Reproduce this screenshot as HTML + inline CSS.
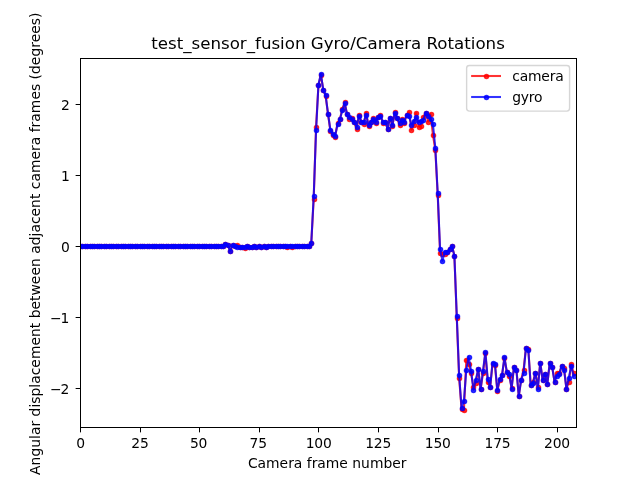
<!DOCTYPE html>
<html lang="en"><head><meta charset="utf-8"><title>test_sensor_fusion Gyro/Camera Rotations</title>
<style>html,body{margin:0;padding:0;background:#fff}body{width:640px;height:480px;overflow:hidden}svg{display:block}text{font-family:'DejaVu Sans','Liberation Sans',sans-serif;fill:#000}.t{font-size:13.889px}.k{letter-spacing:-0.2px}.n{letter-spacing:-1px}.sp{stroke:#000;stroke-width:1;fill:none;stroke-linecap:square}.tk{stroke:#000;stroke-width:1}.ln{fill:none;stroke-width:2.083;stroke-opacity:.8;stroke-linejoin:round;stroke-linecap:square}.r circle{fill:#f00;fill-opacity:.8;stroke:#f00;stroke-opacity:.8;stroke-width:1.389}.b circle{fill:#00f;fill-opacity:.8;stroke:#00f;stroke-opacity:.8;stroke-width:1.389}</style></head><body>
<svg width="640" height="480" viewBox="0 0 640 480">
<rect width="640" height="480" fill="#fff"/>
<clipPath id="ax"><rect x="80" y="57.6" width="496" height="369.6"/></clipPath>
<line class="tk" x1="80.500" y1="427.500" x2="80.500" y2="432.361"/>
<text class="t k" text-anchor="middle" x="80.600" y="448.476">0</text>
<line class="tk" x1="140.500" y1="427.500" x2="140.500" y2="432.361"/>
<text class="t k" text-anchor="middle" x="139.915" y="448.476">25</text>
<line class="tk" x1="199.500" y1="427.500" x2="199.500" y2="432.361"/>
<text class="t k" text-anchor="middle" x="198.631" y="448.476">50</text>
<line class="tk" x1="259.500" y1="427.500" x2="259.500" y2="432.361"/>
<text class="t k" text-anchor="middle" x="258.246" y="448.476">75</text>
<line class="tk" x1="318.500" y1="427.500" x2="318.500" y2="432.361"/>
<text class="t k" text-anchor="middle" x="318.662" y="448.476">100</text>
<line class="tk" x1="378.500" y1="427.500" x2="378.500" y2="432.361"/>
<text class="t k" text-anchor="middle" x="378.177" y="448.476">125</text>
<line class="tk" x1="438.500" y1="427.500" x2="438.500" y2="432.361"/>
<text class="t k" text-anchor="middle" x="437.792" y="448.476">150</text>
<line class="tk" x1="497.500" y1="427.500" x2="497.500" y2="432.361"/>
<text class="t k" text-anchor="middle" x="497.508" y="448.476">175</text>
<line class="tk" x1="557.500" y1="427.500" x2="557.500" y2="432.361"/>
<text class="t k" text-anchor="middle" x="557.023" y="448.476">200</text>
<text class="t" text-anchor="middle" x="327.2" y="467.673">Camera frame number</text>
<line class="tk" x1="75.639" y1="388.500" x2="80.500" y2="388.500"/>
<text class="t n" text-anchor="end" x="68.378" y="394.409">−2</text>
<line class="tk" x1="75.639" y1="317.500" x2="80.500" y2="317.500"/>
<text class="t n" text-anchor="end" x="68.378" y="323.268">−1</text>
<line class="tk" x1="75.639" y1="246.500" x2="80.500" y2="246.500"/>
<text class="t" text-anchor="end" x="69.778" y="252.127">0</text>
<line class="tk" x1="75.639" y1="175.500" x2="80.500" y2="175.500"/>
<text class="t" text-anchor="end" x="69.778" y="180.986">1</text>
<line class="tk" x1="75.639" y1="104.500" x2="80.500" y2="104.500"/>
<text class="t" text-anchor="end" x="69.778" y="109.844">2</text>
<text class="t" style="letter-spacing:0.015px" text-anchor="middle" transform="translate(39.859 243.750) rotate(-90)">Angular displacement between adjacent camera frames (degrees)</text>
<g clip-path="url(#ax)" class="r"><polyline class="ln" stroke="#f00" points="80.00,245.85 82.38,245.85 84.77,245.85 87.15,245.85 89.54,245.85 91.92,245.85 94.31,245.85 96.69,245.85 99.08,245.85 101.46,245.85 103.85,245.85 106.23,245.85 108.62,245.85 111.00,245.85 113.38,245.85 115.77,245.85 118.15,245.85 120.54,245.85 122.92,245.85 125.31,245.85 127.69,245.85 130.08,245.85 132.46,245.85 134.85,245.85 137.23,245.85 139.62,245.85 142.00,245.85 144.38,245.85 146.77,245.85 149.15,245.85 151.54,245.85 153.92,245.85 156.31,245.85 158.69,245.85 161.08,245.85 163.46,245.85 165.85,245.85 168.23,245.85 170.62,245.85 173.00,245.85 175.38,245.85 177.77,245.85 180.15,245.85 182.54,245.85 184.92,245.85 187.31,245.85 189.69,245.85 192.08,245.85 194.46,245.85 196.85,245.85 199.23,245.85 201.62,245.85 204.00,245.85 206.38,245.85 208.77,245.85 211.15,245.85 213.54,245.85 215.92,245.85 218.31,245.85 220.69,245.85 223.08,245.85 225.46,243.72 227.85,245.14 230.23,250.83 232.62,244.78 235.00,245.85 237.38,244.78 239.77,246.70 242.15,246.70 244.54,247.98 246.92,245.85 249.31,246.70 251.69,246.70 254.08,245.99 256.46,246.70 258.85,245.99 261.23,246.70 263.62,245.99 266.00,246.70 268.38,245.85 270.77,245.85 273.15,245.85 275.54,245.85 277.92,245.85 280.31,245.85 282.69,245.85 285.08,245.85 287.46,246.70 289.85,245.85 292.23,246.70 294.62,245.85 297.00,245.85 299.38,245.85 301.77,245.85 304.15,245.85 306.54,245.85 308.92,245.85 311.31,242.51 313.69,199.25 316.08,126.55 318.46,85.28 320.85,74.61 323.23,89.55 325.62,95.96 328.00,113.74 330.38,130.81 332.77,134.73 335.15,136.51 337.54,122.99 339.92,119.08 342.31,109.12 344.69,102.36 347.08,114.45 349.46,118.72 351.85,118.01 354.23,122.28 356.62,129.39 359.00,114.74 361.38,121.85 363.77,123.70 366.15,112.82 368.54,126.19 370.92,121.85 373.31,118.29 375.69,122.63 378.08,117.30 380.46,114.81 382.85,122.99 385.23,121.57 387.62,128.68 390.00,117.58 392.38,126.19 394.77,112.32 397.15,118.01 399.54,125.12 401.92,118.72 404.31,122.99 406.69,114.74 409.08,112.32 411.46,129.75 413.85,125.12 416.23,113.03 418.62,126.55 421.00,125.84 423.38,117.30 425.77,112.60 428.15,121.57 430.54,114.10 432.92,134.73 435.31,149.81 437.69,194.84 440.08,252.89 442.46,253.89 444.85,254.25 447.23,252.47 449.62,248.77 452.00,245.92 454.38,255.60 456.77,318.27 459.15,378.10 461.54,408.98 463.92,409.90 466.31,359.61 468.69,363.94 471.08,373.12 473.46,387.14 475.85,382.65 478.23,369.00 480.62,389.06 483.00,373.12 485.38,353.06 487.77,381.94 490.15,386.92 492.54,363.94 494.92,364.51 497.31,391.19 499.69,380.16 502.08,374.83 504.46,358.11 506.85,372.13 509.23,375.83 511.62,387.63 514.00,366.51 516.38,369.56 518.77,396.03 521.15,379.81 523.54,370.21 525.92,348.08 528.31,348.58 530.69,385.22 533.08,381.59 535.46,372.70 537.85,387.14 540.23,362.74 542.62,379.81 545.00,373.62 547.38,383.65 549.77,362.74 552.15,366.51 554.54,381.94 556.92,372.70 559.31,372.84 561.69,365.87 564.08,368.43 566.46,389.06 568.85,381.52 571.23,364.37 573.62,373.41"/>
<circle cx="80.5" cy="246.5" r="2.083"/><circle cx="82.5" cy="246.5" r="2.083"/><circle cx="85.5" cy="246.5" r="2.083"/><circle cx="87.5" cy="246.5" r="2.083"/><circle cx="90.5" cy="246.5" r="2.083"/><circle cx="92.5" cy="246.5" r="2.083"/><circle cx="94.5" cy="246.5" r="2.083"/><circle cx="97.5" cy="246.5" r="2.083"/><circle cx="99.5" cy="246.5" r="2.083"/><circle cx="101.5" cy="246.5" r="2.083"/><circle cx="104.5" cy="246.5" r="2.083"/><circle cx="106.5" cy="246.5" r="2.083"/><circle cx="109.5" cy="246.5" r="2.083"/><circle cx="111.5" cy="246.5" r="2.083"/><circle cx="113.5" cy="246.5" r="2.083"/><circle cx="116.5" cy="246.5" r="2.083"/><circle cx="118.5" cy="246.5" r="2.083"/><circle cx="121.5" cy="246.5" r="2.083"/><circle cx="123.5" cy="246.5" r="2.083"/><circle cx="125.5" cy="246.5" r="2.083"/><circle cx="128.5" cy="246.5" r="2.083"/><circle cx="130.5" cy="246.5" r="2.083"/><circle cx="132.5" cy="246.5" r="2.083"/><circle cx="135.5" cy="246.5" r="2.083"/><circle cx="137.5" cy="246.5" r="2.083"/><circle cx="140.5" cy="246.5" r="2.083"/><circle cx="142.5" cy="246.5" r="2.083"/><circle cx="144.5" cy="246.5" r="2.083"/><circle cx="147.5" cy="246.5" r="2.083"/><circle cx="149.5" cy="246.5" r="2.083"/><circle cx="152.5" cy="246.5" r="2.083"/><circle cx="154.5" cy="246.5" r="2.083"/><circle cx="156.5" cy="246.5" r="2.083"/><circle cx="159.5" cy="246.5" r="2.083"/><circle cx="161.5" cy="246.5" r="2.083"/><circle cx="163.5" cy="246.5" r="2.083"/><circle cx="166.5" cy="246.5" r="2.083"/><circle cx="168.5" cy="246.5" r="2.083"/><circle cx="171.5" cy="246.5" r="2.083"/><circle cx="173.5" cy="246.5" r="2.083"/><circle cx="175.5" cy="246.5" r="2.083"/><circle cx="178.5" cy="246.5" r="2.083"/><circle cx="180.5" cy="246.5" r="2.083"/><circle cx="183.5" cy="246.5" r="2.083"/><circle cx="185.5" cy="246.5" r="2.083"/><circle cx="187.5" cy="246.5" r="2.083"/><circle cx="190.5" cy="246.5" r="2.083"/><circle cx="192.5" cy="246.5" r="2.083"/><circle cx="194.5" cy="246.5" r="2.083"/><circle cx="197.5" cy="246.5" r="2.083"/><circle cx="199.5" cy="246.5" r="2.083"/><circle cx="202.5" cy="246.5" r="2.083"/><circle cx="204.5" cy="246.5" r="2.083"/><circle cx="206.5" cy="246.5" r="2.083"/><circle cx="209.5" cy="246.5" r="2.083"/><circle cx="211.5" cy="246.5" r="2.083"/><circle cx="214.5" cy="246.5" r="2.083"/><circle cx="216.5" cy="246.5" r="2.083"/><circle cx="218.5" cy="246.5" r="2.083"/><circle cx="221.5" cy="246.5" r="2.083"/><circle cx="223.5" cy="246.5" r="2.083"/><circle cx="225.5" cy="244.5" r="2.083"/><circle cx="228.5" cy="245.5" r="2.083"/><circle cx="230.5" cy="251.5" r="2.083"/><circle cx="233.5" cy="245.5" r="2.083"/><circle cx="235.5" cy="246.5" r="2.083"/><circle cx="237.5" cy="245.5" r="2.083"/><circle cx="240.5" cy="247.5" r="2.083"/><circle cx="242.5" cy="247.5" r="2.083"/><circle cx="245.5" cy="248.5" r="2.083"/><circle cx="247.5" cy="246.5" r="2.083"/><circle cx="249.5" cy="247.5" r="2.083"/><circle cx="252.5" cy="247.5" r="2.083"/><circle cx="254.5" cy="246.5" r="2.083"/><circle cx="256.5" cy="247.5" r="2.083"/><circle cx="259.5" cy="246.5" r="2.083"/><circle cx="261.5" cy="247.5" r="2.083"/><circle cx="264.5" cy="246.5" r="2.083"/><circle cx="266.5" cy="247.5" r="2.083"/><circle cx="268.5" cy="246.5" r="2.083"/><circle cx="271.5" cy="246.5" r="2.083"/><circle cx="273.5" cy="246.5" r="2.083"/><circle cx="276.5" cy="246.5" r="2.083"/><circle cx="278.5" cy="246.5" r="2.083"/><circle cx="280.5" cy="246.5" r="2.083"/><circle cx="283.5" cy="246.5" r="2.083"/><circle cx="285.5" cy="246.5" r="2.083"/><circle cx="287.5" cy="247.5" r="2.083"/><circle cx="290.5" cy="246.5" r="2.083"/><circle cx="292.5" cy="247.5" r="2.083"/><circle cx="295.5" cy="246.5" r="2.083"/><circle cx="297.5" cy="246.5" r="2.083"/><circle cx="299.5" cy="246.5" r="2.083"/><circle cx="302.5" cy="246.5" r="2.083"/><circle cx="304.5" cy="246.5" r="2.083"/><circle cx="307.5" cy="246.5" r="2.083"/><circle cx="309.5" cy="246.5" r="2.083"/><circle cx="311.5" cy="243.5" r="2.083"/><circle cx="314.5" cy="199.5" r="2.083"/><circle cx="316.5" cy="127.5" r="2.083"/><circle cx="318.5" cy="85.5" r="2.083"/><circle cx="321.5" cy="75.5" r="2.083"/><circle cx="323.5" cy="90.5" r="2.083"/><circle cx="326.5" cy="96.5" r="2.083"/><circle cx="328.5" cy="114.5" r="2.083"/><circle cx="330.5" cy="131.5" r="2.083"/><circle cx="333.5" cy="135.5" r="2.083"/><circle cx="335.5" cy="137.5" r="2.083"/><circle cx="338.5" cy="123.5" r="2.083"/><circle cx="340.5" cy="119.5" r="2.083"/><circle cx="342.5" cy="109.5" r="2.083"/><circle cx="345.5" cy="102.5" r="2.083"/><circle cx="347.5" cy="114.5" r="2.083"/><circle cx="349.5" cy="119.5" r="2.083"/><circle cx="352.5" cy="118.5" r="2.083"/><circle cx="354.5" cy="122.5" r="2.083"/><circle cx="357.5" cy="129.5" r="2.083"/><circle cx="359.5" cy="115.5" r="2.083"/><circle cx="361.5" cy="122.5" r="2.083"/><circle cx="364.5" cy="124.5" r="2.083"/><circle cx="366.5" cy="113.5" r="2.083"/><circle cx="369.5" cy="126.5" r="2.083"/><circle cx="371.5" cy="122.5" r="2.083"/><circle cx="373.5" cy="118.5" r="2.083"/><circle cx="376.5" cy="123.5" r="2.083"/><circle cx="378.5" cy="117.5" r="2.083"/><circle cx="380.5" cy="115.5" r="2.083"/><circle cx="383.5" cy="123.5" r="2.083"/><circle cx="385.5" cy="122.5" r="2.083"/><circle cx="388.5" cy="129.5" r="2.083"/><circle cx="390.5" cy="118.5" r="2.083"/><circle cx="392.5" cy="126.5" r="2.083"/><circle cx="395.5" cy="112.5" r="2.083"/><circle cx="397.5" cy="118.5" r="2.083"/><circle cx="400.5" cy="125.5" r="2.083"/><circle cx="402.5" cy="119.5" r="2.083"/><circle cx="404.5" cy="123.5" r="2.083"/><circle cx="407.5" cy="115.5" r="2.083"/><circle cx="409.5" cy="112.5" r="2.083"/><circle cx="411.5" cy="130.5" r="2.083"/><circle cx="414.5" cy="125.5" r="2.083"/><circle cx="416.5" cy="113.5" r="2.083"/><circle cx="419.5" cy="127.5" r="2.083"/><circle cx="421.5" cy="126.5" r="2.083"/><circle cx="423.5" cy="117.5" r="2.083"/><circle cx="426.5" cy="113.5" r="2.083"/><circle cx="428.5" cy="122.5" r="2.083"/><circle cx="431.5" cy="114.5" r="2.083"/><circle cx="433.5" cy="135.5" r="2.083"/><circle cx="435.5" cy="150.5" r="2.083"/><circle cx="438.5" cy="195.5" r="2.083"/><circle cx="440.5" cy="253.5" r="2.083"/><circle cx="442.5" cy="254.5" r="2.083"/><circle cx="445.5" cy="254.5" r="2.083"/><circle cx="447.5" cy="252.5" r="2.083"/><circle cx="450.5" cy="249.5" r="2.083"/><circle cx="452.5" cy="246.5" r="2.083"/><circle cx="454.5" cy="256.5" r="2.083"/><circle cx="457.5" cy="318.5" r="2.083"/><circle cx="459.5" cy="378.5" r="2.083"/><circle cx="462.5" cy="409.5" r="2.083"/><circle cx="464.5" cy="410.5" r="2.083"/><circle cx="466.5" cy="360.5" r="2.083"/><circle cx="469.5" cy="364.5" r="2.083"/><circle cx="471.5" cy="373.5" r="2.083"/><circle cx="473.5" cy="387.5" r="2.083"/><circle cx="476.5" cy="383.5" r="2.083"/><circle cx="478.5" cy="369.5" r="2.083"/><circle cx="481.5" cy="389.5" r="2.083"/><circle cx="483.5" cy="373.5" r="2.083"/><circle cx="485.5" cy="353.5" r="2.083"/><circle cx="488.5" cy="382.5" r="2.083"/><circle cx="490.5" cy="387.5" r="2.083"/><circle cx="493.5" cy="364.5" r="2.083"/><circle cx="495.5" cy="365.5" r="2.083"/><circle cx="497.5" cy="391.5" r="2.083"/><circle cx="500.5" cy="380.5" r="2.083"/><circle cx="502.5" cy="375.5" r="2.083"/><circle cx="504.5" cy="358.5" r="2.083"/><circle cx="507.5" cy="372.5" r="2.083"/><circle cx="509.5" cy="376.5" r="2.083"/><circle cx="512.5" cy="388.5" r="2.083"/><circle cx="514.5" cy="367.5" r="2.083"/><circle cx="516.5" cy="370.5" r="2.083"/><circle cx="519.5" cy="396.5" r="2.083"/><circle cx="521.5" cy="380.5" r="2.083"/><circle cx="524.5" cy="370.5" r="2.083"/><circle cx="526.5" cy="348.5" r="2.083"/><circle cx="528.5" cy="349.5" r="2.083"/><circle cx="531.5" cy="385.5" r="2.083"/><circle cx="533.5" cy="382.5" r="2.083"/><circle cx="535.5" cy="373.5" r="2.083"/><circle cx="538.5" cy="387.5" r="2.083"/><circle cx="540.5" cy="363.5" r="2.083"/><circle cx="543.5" cy="380.5" r="2.083"/><circle cx="545.5" cy="374.5" r="2.083"/><circle cx="547.5" cy="384.5" r="2.083"/><circle cx="550.5" cy="363.5" r="2.083"/><circle cx="552.5" cy="367.5" r="2.083"/><circle cx="555.5" cy="382.5" r="2.083"/><circle cx="557.5" cy="373.5" r="2.083"/><circle cx="559.5" cy="373.5" r="2.083"/><circle cx="562.5" cy="366.5" r="2.083"/><circle cx="564.5" cy="368.5" r="2.083"/><circle cx="566.5" cy="389.5" r="2.083"/><circle cx="569.5" cy="382.5" r="2.083"/><circle cx="571.5" cy="364.5" r="2.083"/><circle cx="574.5" cy="373.5" r="2.083"/>
</g>
<g clip-path="url(#ax)" class="b"><polyline class="ln" stroke="#00f" points="80.00,245.85 82.38,245.85 84.77,245.85 87.15,245.85 89.54,245.85 91.92,245.85 94.31,245.85 96.69,245.85 99.08,245.85 101.46,245.85 103.85,245.85 106.23,245.85 108.62,245.85 111.00,245.85 113.38,245.85 115.77,245.85 118.15,245.85 120.54,245.85 122.92,245.85 125.31,245.85 127.69,245.85 130.08,245.85 132.46,245.85 134.85,245.85 137.23,245.85 139.62,245.85 142.00,245.85 144.38,245.85 146.77,245.85 149.15,245.85 151.54,245.85 153.92,245.85 156.31,245.85 158.69,245.85 161.08,245.85 163.46,245.85 165.85,245.85 168.23,245.85 170.62,245.85 173.00,245.85 175.38,245.85 177.77,245.85 180.15,245.85 182.54,245.85 184.92,245.85 187.31,245.85 189.69,245.85 192.08,245.85 194.46,245.85 196.85,245.85 199.23,245.85 201.62,245.85 204.00,245.85 206.38,245.85 208.77,245.85 211.15,245.85 213.54,245.85 215.92,245.85 218.31,245.85 220.69,245.85 223.08,245.85 225.46,243.72 227.85,245.14 230.23,250.83 232.62,244.78 235.00,245.85 237.38,246.70 239.77,246.70 242.15,246.70 244.54,246.70 246.92,245.99 249.31,246.70 251.69,246.70 254.08,245.99 256.46,246.70 258.85,245.99 261.23,246.70 263.62,245.99 266.00,246.70 268.38,245.85 270.77,245.85 273.15,245.85 275.54,245.85 277.92,245.85 280.31,245.85 282.69,245.85 285.08,245.85 287.46,245.85 289.85,245.85 292.23,245.85 294.62,245.85 297.00,245.85 299.38,245.85 301.77,245.85 304.15,245.85 306.54,245.85 308.92,245.85 311.31,242.51 313.69,196.48 316.08,130.39 318.46,84.57 320.85,73.90 323.23,89.55 325.62,95.24 328.00,113.74 330.38,129.75 332.77,134.37 335.15,135.79 337.54,124.41 339.92,119.43 342.31,110.18 344.69,103.43 347.08,114.45 349.46,116.87 351.85,119.08 354.23,122.28 356.62,126.55 359.00,115.88 361.38,121.85 363.77,121.85 366.15,114.74 368.54,125.34 370.92,121.85 373.31,119.08 375.69,121.57 378.08,117.30 380.46,115.88 382.85,121.85 385.23,121.57 387.62,128.68 390.00,117.58 392.38,124.77 394.77,113.03 397.15,118.01 399.54,122.99 401.92,119.72 404.31,121.57 406.69,114.74 409.08,115.88 411.46,124.77 413.85,120.86 416.23,117.30 418.62,121.85 421.00,120.86 423.38,119.72 425.77,112.60 428.15,115.88 430.54,119.08 432.92,124.06 435.31,147.68 437.69,192.78 440.08,249.34 442.46,260.86 444.85,251.61 447.23,252.47 449.62,248.77 452.00,246.21 454.38,255.60 456.77,315.71 459.15,375.19 461.54,407.77 463.92,400.94 466.31,369.85 468.69,356.83 471.08,370.85 473.46,389.77 475.85,379.60 478.23,369.00 480.62,389.06 483.00,370.85 485.38,352.06 487.77,379.03 490.15,386.92 492.54,362.74 494.92,363.59 497.31,389.77 499.69,379.38 502.08,374.83 504.46,357.04 506.85,372.13 509.23,373.62 511.62,388.84 514.00,366.51 516.38,369.56 518.77,396.03 521.15,379.81 523.54,373.12 525.92,348.08 528.31,349.79 530.69,385.22 533.08,382.65 535.46,372.70 537.85,389.06 540.23,362.74 542.62,379.81 545.00,373.62 547.38,383.65 549.77,362.74 552.15,366.51 554.54,381.94 556.92,375.54 559.31,374.05 561.69,365.87 564.08,369.56 566.46,389.06 568.85,377.68 571.23,365.87 573.62,375.83"/>
<circle cx="80.5" cy="246.5" r="2.083"/><circle cx="82.5" cy="246.5" r="2.083"/><circle cx="85.5" cy="246.5" r="2.083"/><circle cx="87.5" cy="246.5" r="2.083"/><circle cx="90.5" cy="246.5" r="2.083"/><circle cx="92.5" cy="246.5" r="2.083"/><circle cx="94.5" cy="246.5" r="2.083"/><circle cx="97.5" cy="246.5" r="2.083"/><circle cx="99.5" cy="246.5" r="2.083"/><circle cx="101.5" cy="246.5" r="2.083"/><circle cx="104.5" cy="246.5" r="2.083"/><circle cx="106.5" cy="246.5" r="2.083"/><circle cx="109.5" cy="246.5" r="2.083"/><circle cx="111.5" cy="246.5" r="2.083"/><circle cx="113.5" cy="246.5" r="2.083"/><circle cx="116.5" cy="246.5" r="2.083"/><circle cx="118.5" cy="246.5" r="2.083"/><circle cx="121.5" cy="246.5" r="2.083"/><circle cx="123.5" cy="246.5" r="2.083"/><circle cx="125.5" cy="246.5" r="2.083"/><circle cx="128.5" cy="246.5" r="2.083"/><circle cx="130.5" cy="246.5" r="2.083"/><circle cx="132.5" cy="246.5" r="2.083"/><circle cx="135.5" cy="246.5" r="2.083"/><circle cx="137.5" cy="246.5" r="2.083"/><circle cx="140.5" cy="246.5" r="2.083"/><circle cx="142.5" cy="246.5" r="2.083"/><circle cx="144.5" cy="246.5" r="2.083"/><circle cx="147.5" cy="246.5" r="2.083"/><circle cx="149.5" cy="246.5" r="2.083"/><circle cx="152.5" cy="246.5" r="2.083"/><circle cx="154.5" cy="246.5" r="2.083"/><circle cx="156.5" cy="246.5" r="2.083"/><circle cx="159.5" cy="246.5" r="2.083"/><circle cx="161.5" cy="246.5" r="2.083"/><circle cx="163.5" cy="246.5" r="2.083"/><circle cx="166.5" cy="246.5" r="2.083"/><circle cx="168.5" cy="246.5" r="2.083"/><circle cx="171.5" cy="246.5" r="2.083"/><circle cx="173.5" cy="246.5" r="2.083"/><circle cx="175.5" cy="246.5" r="2.083"/><circle cx="178.5" cy="246.5" r="2.083"/><circle cx="180.5" cy="246.5" r="2.083"/><circle cx="183.5" cy="246.5" r="2.083"/><circle cx="185.5" cy="246.5" r="2.083"/><circle cx="187.5" cy="246.5" r="2.083"/><circle cx="190.5" cy="246.5" r="2.083"/><circle cx="192.5" cy="246.5" r="2.083"/><circle cx="194.5" cy="246.5" r="2.083"/><circle cx="197.5" cy="246.5" r="2.083"/><circle cx="199.5" cy="246.5" r="2.083"/><circle cx="202.5" cy="246.5" r="2.083"/><circle cx="204.5" cy="246.5" r="2.083"/><circle cx="206.5" cy="246.5" r="2.083"/><circle cx="209.5" cy="246.5" r="2.083"/><circle cx="211.5" cy="246.5" r="2.083"/><circle cx="214.5" cy="246.5" r="2.083"/><circle cx="216.5" cy="246.5" r="2.083"/><circle cx="218.5" cy="246.5" r="2.083"/><circle cx="221.5" cy="246.5" r="2.083"/><circle cx="223.5" cy="246.5" r="2.083"/><circle cx="225.5" cy="244.5" r="2.083"/><circle cx="228.5" cy="245.5" r="2.083"/><circle cx="230.5" cy="251.5" r="2.083"/><circle cx="233.5" cy="245.5" r="2.083"/><circle cx="235.5" cy="246.5" r="2.083"/><circle cx="237.5" cy="247.5" r="2.083"/><circle cx="240.5" cy="247.5" r="2.083"/><circle cx="242.5" cy="247.5" r="2.083"/><circle cx="245.5" cy="247.5" r="2.083"/><circle cx="247.5" cy="246.5" r="2.083"/><circle cx="249.5" cy="247.5" r="2.083"/><circle cx="252.5" cy="247.5" r="2.083"/><circle cx="254.5" cy="246.5" r="2.083"/><circle cx="256.5" cy="247.5" r="2.083"/><circle cx="259.5" cy="246.5" r="2.083"/><circle cx="261.5" cy="247.5" r="2.083"/><circle cx="264.5" cy="246.5" r="2.083"/><circle cx="266.5" cy="247.5" r="2.083"/><circle cx="268.5" cy="246.5" r="2.083"/><circle cx="271.5" cy="246.5" r="2.083"/><circle cx="273.5" cy="246.5" r="2.083"/><circle cx="276.5" cy="246.5" r="2.083"/><circle cx="278.5" cy="246.5" r="2.083"/><circle cx="280.5" cy="246.5" r="2.083"/><circle cx="283.5" cy="246.5" r="2.083"/><circle cx="285.5" cy="246.5" r="2.083"/><circle cx="287.5" cy="246.5" r="2.083"/><circle cx="290.5" cy="246.5" r="2.083"/><circle cx="292.5" cy="246.5" r="2.083"/><circle cx="295.5" cy="246.5" r="2.083"/><circle cx="297.5" cy="246.5" r="2.083"/><circle cx="299.5" cy="246.5" r="2.083"/><circle cx="302.5" cy="246.5" r="2.083"/><circle cx="304.5" cy="246.5" r="2.083"/><circle cx="307.5" cy="246.5" r="2.083"/><circle cx="309.5" cy="246.5" r="2.083"/><circle cx="311.5" cy="243.5" r="2.083"/><circle cx="314.5" cy="196.5" r="2.083"/><circle cx="316.5" cy="130.5" r="2.083"/><circle cx="318.5" cy="85.5" r="2.083"/><circle cx="321.5" cy="74.5" r="2.083"/><circle cx="323.5" cy="90.5" r="2.083"/><circle cx="326.5" cy="95.5" r="2.083"/><circle cx="328.5" cy="114.5" r="2.083"/><circle cx="330.5" cy="130.5" r="2.083"/><circle cx="333.5" cy="134.5" r="2.083"/><circle cx="335.5" cy="136.5" r="2.083"/><circle cx="338.5" cy="124.5" r="2.083"/><circle cx="340.5" cy="119.5" r="2.083"/><circle cx="342.5" cy="110.5" r="2.083"/><circle cx="345.5" cy="103.5" r="2.083"/><circle cx="347.5" cy="114.5" r="2.083"/><circle cx="349.5" cy="117.5" r="2.083"/><circle cx="352.5" cy="119.5" r="2.083"/><circle cx="354.5" cy="122.5" r="2.083"/><circle cx="357.5" cy="127.5" r="2.083"/><circle cx="359.5" cy="116.5" r="2.083"/><circle cx="361.5" cy="122.5" r="2.083"/><circle cx="364.5" cy="122.5" r="2.083"/><circle cx="366.5" cy="115.5" r="2.083"/><circle cx="369.5" cy="125.5" r="2.083"/><circle cx="371.5" cy="122.5" r="2.083"/><circle cx="373.5" cy="119.5" r="2.083"/><circle cx="376.5" cy="122.5" r="2.083"/><circle cx="378.5" cy="117.5" r="2.083"/><circle cx="380.5" cy="116.5" r="2.083"/><circle cx="383.5" cy="122.5" r="2.083"/><circle cx="385.5" cy="122.5" r="2.083"/><circle cx="388.5" cy="129.5" r="2.083"/><circle cx="390.5" cy="118.5" r="2.083"/><circle cx="392.5" cy="125.5" r="2.083"/><circle cx="395.5" cy="113.5" r="2.083"/><circle cx="397.5" cy="118.5" r="2.083"/><circle cx="400.5" cy="123.5" r="2.083"/><circle cx="402.5" cy="120.5" r="2.083"/><circle cx="404.5" cy="122.5" r="2.083"/><circle cx="407.5" cy="115.5" r="2.083"/><circle cx="409.5" cy="116.5" r="2.083"/><circle cx="411.5" cy="125.5" r="2.083"/><circle cx="414.5" cy="121.5" r="2.083"/><circle cx="416.5" cy="117.5" r="2.083"/><circle cx="419.5" cy="122.5" r="2.083"/><circle cx="421.5" cy="121.5" r="2.083"/><circle cx="423.5" cy="120.5" r="2.083"/><circle cx="426.5" cy="113.5" r="2.083"/><circle cx="428.5" cy="116.5" r="2.083"/><circle cx="431.5" cy="119.5" r="2.083"/><circle cx="433.5" cy="124.5" r="2.083"/><circle cx="435.5" cy="148.5" r="2.083"/><circle cx="438.5" cy="193.5" r="2.083"/><circle cx="440.5" cy="249.5" r="2.083"/><circle cx="442.5" cy="261.5" r="2.083"/><circle cx="445.5" cy="252.5" r="2.083"/><circle cx="447.5" cy="252.5" r="2.083"/><circle cx="450.5" cy="249.5" r="2.083"/><circle cx="452.5" cy="246.5" r="2.083"/><circle cx="454.5" cy="256.5" r="2.083"/><circle cx="457.5" cy="316.5" r="2.083"/><circle cx="459.5" cy="375.5" r="2.083"/><circle cx="462.5" cy="408.5" r="2.083"/><circle cx="464.5" cy="401.5" r="2.083"/><circle cx="466.5" cy="370.5" r="2.083"/><circle cx="469.5" cy="357.5" r="2.083"/><circle cx="471.5" cy="371.5" r="2.083"/><circle cx="473.5" cy="390.5" r="2.083"/><circle cx="476.5" cy="380.5" r="2.083"/><circle cx="478.5" cy="369.5" r="2.083"/><circle cx="481.5" cy="389.5" r="2.083"/><circle cx="483.5" cy="371.5" r="2.083"/><circle cx="485.5" cy="352.5" r="2.083"/><circle cx="488.5" cy="379.5" r="2.083"/><circle cx="490.5" cy="387.5" r="2.083"/><circle cx="493.5" cy="363.5" r="2.083"/><circle cx="495.5" cy="364.5" r="2.083"/><circle cx="497.5" cy="390.5" r="2.083"/><circle cx="500.5" cy="379.5" r="2.083"/><circle cx="502.5" cy="375.5" r="2.083"/><circle cx="504.5" cy="357.5" r="2.083"/><circle cx="507.5" cy="372.5" r="2.083"/><circle cx="509.5" cy="374.5" r="2.083"/><circle cx="512.5" cy="389.5" r="2.083"/><circle cx="514.5" cy="367.5" r="2.083"/><circle cx="516.5" cy="370.5" r="2.083"/><circle cx="519.5" cy="396.5" r="2.083"/><circle cx="521.5" cy="380.5" r="2.083"/><circle cx="524.5" cy="373.5" r="2.083"/><circle cx="526.5" cy="348.5" r="2.083"/><circle cx="528.5" cy="350.5" r="2.083"/><circle cx="531.5" cy="385.5" r="2.083"/><circle cx="533.5" cy="383.5" r="2.083"/><circle cx="535.5" cy="373.5" r="2.083"/><circle cx="538.5" cy="389.5" r="2.083"/><circle cx="540.5" cy="363.5" r="2.083"/><circle cx="543.5" cy="380.5" r="2.083"/><circle cx="545.5" cy="374.5" r="2.083"/><circle cx="547.5" cy="384.5" r="2.083"/><circle cx="550.5" cy="363.5" r="2.083"/><circle cx="552.5" cy="367.5" r="2.083"/><circle cx="555.5" cy="382.5" r="2.083"/><circle cx="557.5" cy="376.5" r="2.083"/><circle cx="559.5" cy="374.5" r="2.083"/><circle cx="562.5" cy="366.5" r="2.083"/><circle cx="564.5" cy="370.5" r="2.083"/><circle cx="566.5" cy="389.5" r="2.083"/><circle cx="569.5" cy="378.5" r="2.083"/><circle cx="571.5" cy="366.5" r="2.083"/><circle cx="574.5" cy="376.5" r="2.083"/>
</g>
<path class="sp" d="M80.5 427.5V58.5M576.5 427.5V58.5M80.5 427.5H576.5M80.5 58.5H576.5"/>
<text text-anchor="middle" x="328" y="49.267" style="font-size:16.667px">test_sensor_fusion Gyro/Camera Rotations</text>
<rect x="466.610" y="65.550" width="102.990" height="45.550" rx="2.778" fill="#fff" stroke="#ccc" stroke-width="1.389" opacity=".8"/>
<g class="r"><line class="ln" stroke="#f00" x1="472.168" y1="76.000" x2="499.945" y2="76.000"/><circle cx="486.5" cy="76.5" r="2.083"/></g>
<text class="t" style="letter-spacing:-0.17px" x="512.200" y="80.650">camera</text>
<g class="b"><line class="ln" stroke="#00f" x1="472.168" y1="97.000" x2="499.945" y2="97.000"/><circle cx="486.5" cy="97.5" r="2.083"/></g>
<text class="t" style="letter-spacing:-0.17px" x="512.200" y="102.200">gyro</text>
</svg></body></html>
